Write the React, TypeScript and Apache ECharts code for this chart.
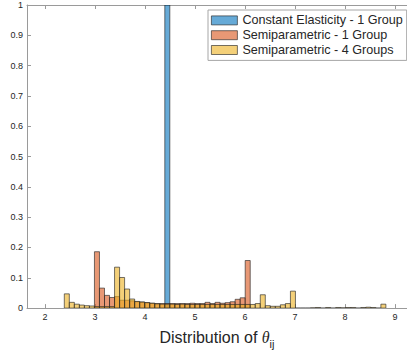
import React, { useEffect, useRef } from "react";
import * as echarts from "echarts";

// Histogram bins (shared edges): start and width of bins
const binStart = 2.386;
const binWidth = 0.1005;

// Constant Elasticity - 1 Group (single bin index 20)
const blueStartBin = 20;
const blueValues = [1.0];

// Semiparametric - 1 Group (bins 6..36)
const redStartBin = 6;
const redValues = [
  0.186, 0.066, 0.042, 0.035, 0.038, 0.026, 0.026, 0.024, 0.021, 0.02,
  0.018, 0.016, 0.015, 0.015, 0.015, 0.015, 0.015, 0.015, 0.015, 0.016,
  0.015, 0.015, 0.019, 0.015, 0.019, 0.016, 0.018, 0.021, 0.029, 0.034,
  0.157,
];

// Semiparametric - 4 Groups (bins 0..63)
const yellowStartBin = 0;
const yellowValues = [
  0.047, 0.019, 0.013, 0.01, 0.008, 0.007, 0.005, 0.005, 0.005, 0.005,
  0.135, 0.101, 0.063, 0.03, 0.022, 0.02, 0.018, 0.016, 0.014, 0.013,
  0.013, 0.013, 0.012, 0.013, 0.012, 0.012, 0.012, 0.012, 0.012, 0.012,
  0.012, 0.012, 0.012, 0.012, 0.012, 0.012, 0.012, 0.012, 0.015, 0.044,
  0.008, 0.006, 0.006, 0.011, 0.015, 0.056, 0, 0, 0, 0.001,
  0.002, 0, 0.002, 0, 0.002, 0.001, 0.002, 0.002, 0, 0.002,
  0.003, 0.002, 0, 0.013,
];

const seriesNames = [
  "Constant Elasticity - 1 Group",
  "Semiparametric - 1 Group",
  "Semiparametric - 4 Groups",
];
const seriesColors = [
  "rgba(0,114,189,0.6)",
  "rgba(217,83,25,0.6)",
  "rgba(237,177,32,0.6)",
];

const xTicks = [2, 3, 4, 5, 6, 7, 8, 9];
const xMin = 1.64;
const xMax = 9.24;

const edgeColor = "rgba(38,38,38,0.8)";

function toBins(start: number, values: number[]) {
  return values.map((v, i) => {
    const k = start + i;
    const x0 = binStart + k * binWidth;
    return [x0, x0 + binWidth, v];
  });
}

function makeSeries(name: string, color: string, data: number[][]) {
  return {
    type: "custom",
    name,
    clip: true,
    xAxisIndex: 0,
    yAxisIndex: 0,
    itemStyle: { color, borderColor: edgeColor, borderWidth: 0.8 },
    encode: { x: [0, 1], y: 2 },
    data,
    renderItem: (params: any, api: any) => {
      const x0 = api.value(0);
      const x1 = api.value(1);
      const y = api.value(2);
      const p0 = api.coord([x0, y]);
      const p1 = api.coord([x1, 0]);
      return {
        type: "rect",
        shape: {
          x: p0[0],
          y: p0[1],
          width: p1[0] - p0[0],
          height: p1[1] - p0[1],
        },
        style: { fill: color, stroke: edgeColor, lineWidth: 0.8 },
      };
    },
  };
}

export default function App() {
  const ref = useRef<HTMLDivElement>(null);
  useEffect(() => {
    if (!ref.current) return;
    const chart = echarts.init(ref.current, null, { renderer: "svg" });
    const font = "Liberation Sans";
    const axisColor = "#9a9a9a";
    const labelColor = "#262626";
    chart.setOption({
      animation: false,
      backgroundColor: "#ffffff",
      textStyle: { fontFamily: font },
      grid: { left: 27, top: 5, right: 0, bottom: 44, containLabel: false },
      legend: {
        orient: "vertical",
        left: 208,
        top: 10,
        padding: [3, 4, 3, 3],
        itemGap: 0,
        itemWidth: 26,
        itemHeight: 9,
        borderColor: "#a6a6a6",
        borderWidth: 1,
        backgroundColor: "#ffffff",
        textStyle: {
          fontSize: 12.6,
          fontFamily: font,
          color: labelColor,
          lineHeight: 14.8,
        },
        data: seriesNames.map((n, i) => ({
          name: n,
          icon: "rect",
          itemStyle: {
            color: seriesColors[i],
            borderColor: edgeColor,
            borderWidth: 0.8,
          },
        })),
      },
      xAxis: [
        {
          type: "value",
          min: xMin,
          max: xMax,
          position: "bottom",
          axisLine: { show: true, lineStyle: { color: axisColor, width: 1 } },
          axisTick: {
            show: true,
            inside: true,
            length: 4,
            customValues: xTicks,
            lineStyle: { color: axisColor },
          },
          axisLabel: {
            show: true,
            customValues: xTicks,
            fontSize: 9,
            color: labelColor,
            margin: 4,
            fontFamily: font,
          },
          splitLine: { show: false },
          name: "{t|Distribution of }{th|θ}{s|ij}",
          nameLocation: "middle",
          nameGap: 17,
          nameTextStyle: {
            rich: {
              t: { fontSize: 16, fontFamily: font, color: labelColor, lineHeight: 20 },
              th: {
                fontSize: 16,
                fontFamily: "Liberation Serif",
                fontStyle: "italic",
                color: labelColor,
                lineHeight: 20,
              },
              s: {
                fontSize: 11,
                fontFamily: font,
                color: labelColor,
                lineHeight: 20,
                padding: [12, 0, 0, 0],
              },
            },
          },
        },
        {
          type: "value",
          min: xMin,
          max: xMax,
          position: "top",
          axisLine: { show: true, lineStyle: { color: axisColor, width: 1 } },
          axisTick: {
            show: true,
            inside: true,
            length: 4,
            customValues: xTicks,
            lineStyle: { color: axisColor },
          },
          axisLabel: { show: false },
          splitLine: { show: false },
        },
      ],
      yAxis: {
        type: "value",
        min: 0,
        max: 1,
        interval: 0.1,
        axisLine: { show: true, lineStyle: { color: axisColor, width: 1 } },
        axisTick: {
          show: true,
          inside: true,
          length: 4,
          lineStyle: { color: axisColor },
        },
        axisLabel: {
          fontSize: 9,
          color: labelColor,
          margin: 4,
          fontFamily: font,
        },
        splitLine: { show: false },
      },
      series: [
        makeSeries(seriesNames[0], seriesColors[0], toBins(blueStartBin, blueValues)),
        makeSeries(seriesNames[1], seriesColors[1], toBins(redStartBin, redValues)),
        makeSeries(seriesNames[2], seriesColors[2], toBins(yellowStartBin, yellowValues)),
      ],
    });
    return () => chart.dispose();
  }, []);
  return (
    <div
      ref={ref}
      style={{ position: "fixed", left: 0, top: 0, width: 407, height: 354 }}
    />
  );
}
